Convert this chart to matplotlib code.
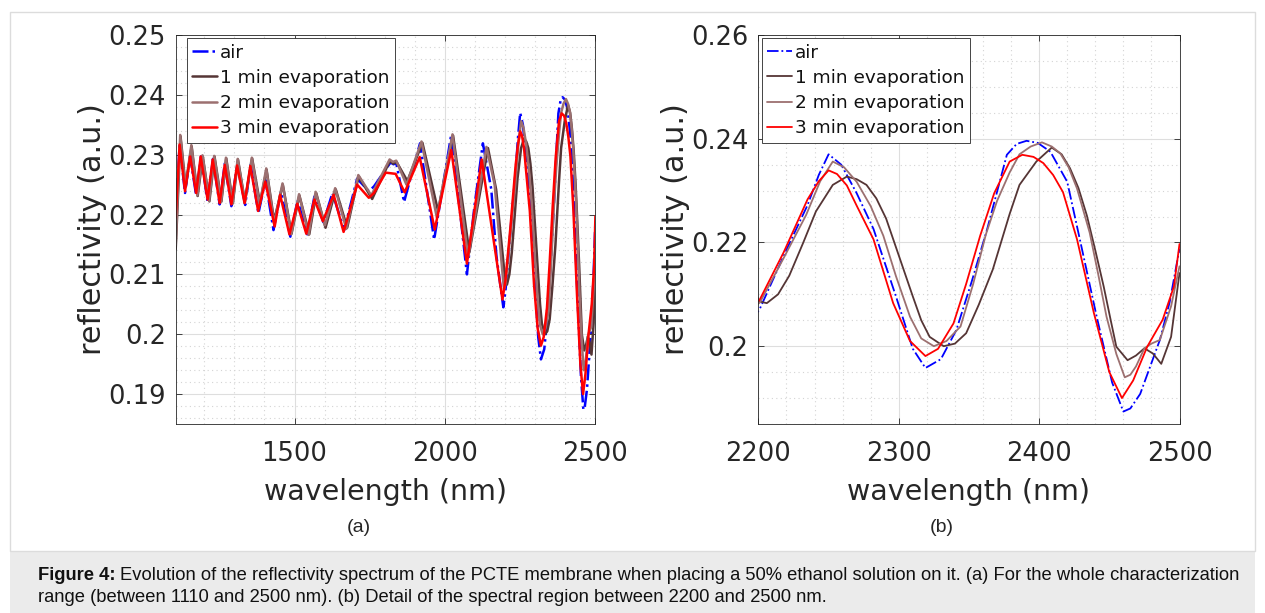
import matplotlib
matplotlib.use("Agg")
import matplotlib.pyplot as plt
from matplotlib.patches import Rectangle
from matplotlib.ticker import MultipleLocator, FormatStrFormatter

plt.rcParams["font.family"] = ["DejaVu Sans"]

# wavelength (nm) / reflectivity (a.u.), one pair of lists per series
air_nm = [1105, 1118, 1136, 1153, 1173, 1189, 1211, 1229, 1251, 1268,
          1290, 1309, 1336, 1354, 1380, 1403, 1430, 1455, 1486, 1510,
          1542, 1566, 1596, 1626, 1665, 1708, 1747, 1764, 1819, 1829,
          1838, 1864, 1917, 1964, 2020, 2048, 2073, 2098, 2126, 2154,
          2171, 2194, 2201, 2220, 2235, 2243, 2250, 2259, 2270, 2282,
          2298, 2310, 2319, 2330, 2341, 2352, 2363, 2377, 2384, 2391,
          2399, 2408, 2420, 2429, 2441, 2452, 2460, 2465, 2472, 2486,
          2493, 2500]
air_r = [0.2190, 0.2318, 0.2236, 0.2298, 0.2232, 0.2297, 0.2222, 0.2293, 0.2217, 0.2285,
         0.2214, 0.2284, 0.2216, 0.2283, 0.2202, 0.2258, 0.2174, 0.2238, 0.2163, 0.2224,
         0.2167, 0.2230, 0.2187, 0.2236, 0.2174, 0.2260, 0.2239, 0.2247, 0.2287, 0.2284,
         0.2286, 0.2221, 0.2319, 0.2158, 0.2331, 0.2214, 0.2100, 0.2214, 0.2319, 0.2242,
         0.2131, 0.2045, 0.2072, 0.2186, 0.2272, 0.2330, 0.2370, 0.2350, 0.2295, 0.2226,
         0.2096, 0.1995, 0.1958, 0.1975, 0.2031, 0.2125, 0.2226, 0.2369, 0.2390, 0.2396,
         0.2392, 0.2375, 0.2317, 0.2206, 0.2057, 0.1930, 0.1874, 0.1880, 0.1908, 0.2012,
         0.2085, 0.2188]

min1_nm = [1105, 1121, 1138, 1158, 1178, 1195, 1217, 1234, 1257, 1273,
           1295, 1312, 1335, 1359, 1385, 1407, 1432, 1461, 1490, 1516,
           1549, 1572, 1603, 1637, 1675, 1713, 1758, 1817, 1828, 1839,
           1875, 1925, 1977, 2027, 2081, 2143, 2170, 2201, 2206, 2214,
           2222, 2232, 2241, 2253, 2263, 2270, 2277, 2284, 2291, 2300,
           2310, 2316, 2322, 2332, 2340, 2348, 2357, 2367, 2379, 2386,
           2398, 2409, 2416, 2422, 2428, 2434, 2440, 2446, 2451, 2455,
           2463, 2469, 2475, 2481, 2487, 2494, 2500]
min1_r = [0.2142, 0.2331, 0.2247, 0.2314, 0.2231, 0.2297, 0.2222, 0.2297, 0.2222, 0.2294,
          0.2219, 0.2292, 0.2222, 0.2294, 0.2219, 0.2275, 0.2190, 0.2250, 0.2168, 0.2232,
          0.2167, 0.2236, 0.2178, 0.2242, 0.2178, 0.2264, 0.2226, 0.2290, 0.2285, 0.2288,
          0.2256, 0.2320, 0.2206, 0.2332, 0.2137, 0.2311, 0.2242, 0.2086, 0.2083, 0.2100,
          0.2136, 0.2200, 0.2260, 0.2311, 0.2327, 0.2322, 0.2311, 0.2285, 0.2246, 0.2175,
          0.2096, 0.2050, 0.2018, 0.2000, 0.2005, 0.2025, 0.2080, 0.2148, 0.2255, 0.2311,
          0.2356, 0.2383, 0.2370, 0.2343, 0.2305, 0.2252, 0.2185, 0.2115, 0.2050, 0.1999,
          0.1973, 0.1982, 0.1996, 0.1986, 0.1966, 0.2018, 0.2141]

min2_nm = [1105, 1120, 1137, 1157, 1177, 1194, 1216, 1233, 1256, 1272,
           1294, 1311, 1335, 1358, 1384, 1406, 1432, 1460, 1489, 1515,
           1547, 1570, 1601, 1635, 1672, 1712, 1755, 1816, 1827, 1838,
           1872, 1922, 1973, 2025, 2077, 2138, 2165, 2196, 2201, 2218,
           2234, 2244, 2253, 2261, 2270, 2280, 2289, 2298, 2308, 2316,
           2325, 2334, 2344, 2353, 2362, 2370, 2379, 2386, 2394, 2402,
           2409, 2415, 2421, 2427, 2436, 2442, 2448, 2455, 2461, 2465,
           2469, 2475, 2480, 2486, 2494, 2500]
min2_r = [0.2150, 0.2333, 0.2246, 0.2316, 0.2232, 0.2299, 0.2223, 0.2298, 0.2221, 0.2295,
          0.2218, 0.2293, 0.2220, 0.2295, 0.2216, 0.2277, 0.2185, 0.2252, 0.2167, 0.2234,
          0.2166, 0.2238, 0.2182, 0.2244, 0.2176, 0.2266, 0.2232, 0.2292, 0.2288, 0.2290,
          0.2250, 0.2322, 0.2195, 0.2334, 0.2128, 0.2313, 0.2250, 0.2075, 0.2084, 0.2170,
          0.2253, 0.2318, 0.2356, 0.2345, 0.2317, 0.2270, 0.2213, 0.2135, 0.2057, 0.2015,
          0.2000, 0.2010, 0.2038, 0.2120, 0.2215, 0.2280, 0.2335, 0.2370, 0.2385, 0.2393,
          0.2385, 0.2372, 0.2345, 0.2304, 0.2219, 0.2140, 0.2057, 0.1985, 0.1940, 0.1945,
          0.1961, 0.1996, 0.2005, 0.2012, 0.2077, 0.2154]

min3_nm = [1105, 1118, 1136, 1153, 1173, 1188, 1211, 1228, 1251, 1268,
           1290, 1309, 1334, 1353, 1379, 1403, 1434, 1452, 1483, 1509,
           1539, 1566, 1594, 1630, 1663, 1708, 1747, 1764, 1803, 1836,
           1866, 1916, 1966, 2021, 2073, 2122, 2191, 2201, 2218, 2235,
           2243, 2250, 2256, 2263, 2270, 2282, 2296, 2308, 2319, 2328,
           2339, 2348, 2358, 2368, 2379, 2388, 2396, 2403, 2410, 2417,
           2427, 2439, 2450, 2459, 2467, 2477, 2488, 2496, 2500]
min3_r = [0.2195, 0.2317, 0.2239, 0.2297, 0.2236, 0.2297, 0.2225, 0.2292, 0.2219, 0.2283,
          0.2217, 0.2282, 0.2219, 0.2281, 0.2206, 0.2255, 0.2180, 0.2233, 0.2167, 0.2218,
          0.2168, 0.2225, 0.2189, 0.2233, 0.2171, 0.2250, 0.2228, 0.2236, 0.2270, 0.2268,
          0.2237, 0.2296, 0.2175, 0.2308, 0.2118, 0.2292, 0.2058, 0.2090, 0.2181, 0.2283,
          0.2318, 0.2339, 0.2332, 0.2310, 0.2271, 0.2206, 0.2083, 0.2010, 0.1981, 0.1995,
          0.2044, 0.2120, 0.2213, 0.2295, 0.2356, 0.2369, 0.2365, 0.2353, 0.2330, 0.2297,
          0.2206, 0.2064, 0.1950, 0.1900, 0.1934, 0.1999, 0.2051, 0.2115, 0.2197]

series = [
    ("air", air_nm, air_r, "#0000ff", "-."),
    ("1 min evaporation", min1_nm, min1_r, "#553535", "-"),
    ("2 min evaporation", min2_nm, min2_r, "#9c7070", "-"),
    ("3 min evaporation", min3_nm, min3_r, "#ff0000", "-"),
]

TXT = "#262626"


def draw_panel(ax, xlim, ylim, xmajor, xminor, ymajor, yminor, lw, legend_x):
    for label, xs, ys, color, ls in series:
        ax.plot(xs, ys, ls, color=color, lw=lw, label=label,
                solid_joinstyle="round", solid_capstyle="round")
    ax.set_xlim(*xlim)
    ax.set_ylim(*ylim)
    ax.xaxis.set_major_locator(MultipleLocator(xmajor))
    ax.xaxis.set_minor_locator(MultipleLocator(xminor))
    ax.yaxis.set_major_locator(MultipleLocator(ymajor))
    ax.yaxis.set_minor_locator(MultipleLocator(yminor))
    ax.yaxis.set_major_formatter(FormatStrFormatter("%g"))
    ax.grid(which="major", color="#dedede", lw=0.8, ls="-")
    ax.grid(which="minor", color="#d4d4d4", lw=0.8, ls=(0, (1, 3)))
    ax.set_axisbelow(True)
    ax.tick_params(which="major", direction="in", length=4, width=0.6,
                   top=True, right=True, labelsize=18.5, colors=TXT, pad=7)
    ax.tick_params(which="minor", length=0, top=True, right=True)
    ax.tick_params(axis="x", which="major", pad=12)
    for sp in ax.spines.values():
        sp.set_color(TXT)
        sp.set_linewidth(0.6)
    ax.set_xlabel("wavelength (nm)", fontsize=20.5, color=TXT, labelpad=8)
    ax.set_ylabel("reflectivity (a.u.)", fontsize=21.8, color=TXT, labelpad=1)
    leg = ax.legend(loc="upper left", bbox_to_anchor=(legend_x, 0.992),
                    borderaxespad=0, fontsize=13.3, frameon=True, fancybox=False,
                    framealpha=1, edgecolor="#262626", handlelength=1.35,
                    handletextpad=0.15, labelspacing=0.39, borderpad=0.3)
    leg.get_frame().set_linewidth(0.6)
    for t in leg.get_texts():
        t.set_color("#111111")


fig = plt.figure(figsize=(12.65, 6.13), dpi=100)
W, H = 1265.0, 613.0

# outer frame and caption band
fig.add_artist(Rectangle((10 / W, 0), 1245 / W, (H - 551) / H, transform=fig.transFigure,
                         facecolor="#ebebeb", edgecolor="none", zorder=0))
fig.add_artist(Rectangle((10 / W, (H - 551) / H), 1245 / W, (551 - 12) / H,
                         transform=fig.transFigure, facecolor="none",
                         edgecolor="#dcdcdc", lw=1.0, zorder=0))

ax_a = fig.add_axes([175.7 / W, 1 - 424 / H, (595.4 - 175.7) / W, (424 - 35) / H])
ax_b = fig.add_axes([758.4 / W, 1 - 424 / H, (1179.5 - 758.4) / W, (424 - 35) / H])

draw_panel(ax_a, (1105, 2500), (0.185, 0.25), 500, 100, 0.01, 0.002, 1.8, 0.026)
draw_panel(ax_b, (2200, 2500), (0.185, 0.26), 100, 20, 0.02, 0.005, 1.3, 0.008)

fig.text(359 / W, 1 - 527 / H, "(a)", ha="center", va="center", fontsize=14, color=TXT,
         family=["Liberation Sans"])
fig.text(942 / W, 1 - 527 / H, "(b)", ha="center", va="center", fontsize=14, color=TXT,
         family=["Liberation Sans"])

# caption: bold lead-in followed by regular text
cap_size = 13.2
x0 = 38.5 / W
y1 = 1 - 575 / H
y2 = 1 - 598 / H
bold = fig.text(x0, y1, "Figure 4:", ha="left", va="center", fontsize=cap_size,
                weight="bold", family=["Liberation Sans"], color="#111111")
renderer = fig.canvas.get_renderer()
bb = bold.get_window_extent(renderer)
fig.text(bb.x1 / W + 4 / W, y1,
         "Evolution of the reflectivity spectrum of the PCTE membrane when placing a 50% "
         "ethanol solution on it. (a) For the whole characterization",
         ha="left", va="center", fontsize=cap_size, family=["Liberation Sans"], color="#111111")
fig.text(x0, y2, "range (between 1110 and 2500 nm). (b) Detail of the spectral region "
         "between 2200 and 2500 nm.",
         ha="left", va="center", fontsize=cap_size, family=["Liberation Sans"], color="#111111")

fig.savefig("out.png", dpi=100)
